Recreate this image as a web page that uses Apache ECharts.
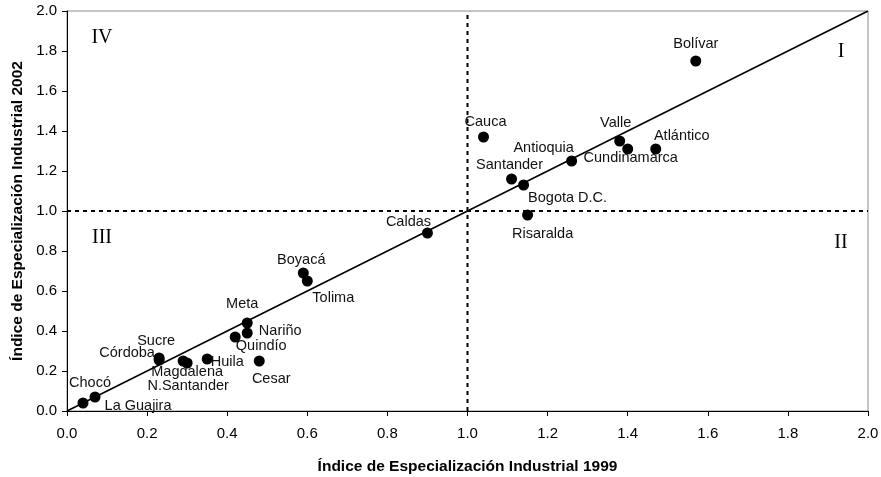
<!DOCTYPE html>
<html>
<head>
<meta charset="utf-8">
<script src="https://cdn.jsdelivr.net/npm/echarts@6/dist/echarts.min.js"></script>
<style>html,body{margin:0;padding:0;background:#fff}#c{width:881px;height:477px}</style>
</head>
<body>
<div id="c"></div>
<script>
var names = ["Bolívar","Atlántico","Valle","Cundinamarca","Antioquia","Santander","Bogota D.C.","Cauca","Risaralda","Caldas","Boyacá","Tolima","Meta","Nariño","Quindío","Huila","Cesar","Magdalena","N.Santander","Sucre","Córdoba","Chocó","La Guajira"];
var index1999 = [1.57,1.47,1.38,1.40,1.26,1.11,1.14,1.04,1.15,0.90,0.59,0.60,0.45,0.45,0.42,0.35,0.48,0.29,0.30,0.23,0.23,0.04,0.07];
var index2002 = [1.75,1.31,1.35,1.31,1.25,1.16,1.13,1.37,0.98,0.89,0.69,0.65,0.44,0.39,0.37,0.26,0.25,0.25,0.24,0.265,0.255,0.04,0.07];
var axisTicks = [0,0.2,0.4,0.6,0.8,1.0,1.2,1.4,1.6,1.8,2.0];
var quadrantLabels = ["I","II","III","IV"];
var xTitle = "Índice de Especialización Industrial 1999";
var yTitle = "Índice de Especialización Industrial 2002";

// label placement (style, kept apart from data)
var labelOffsets = {
  "Bolívar":[0,-17],"Atlántico":[26,-13],"Valle":[-4,-18],"Cundinamarca":[3,9],
  "Antioquia":[-28,-13],"Santander":[-2,-14],"Bogota D.C.":[44,13],"Cauca":[2,-15],
  "Risaralda":[15,19],"Caldas":[-19,-11],"Boyacá":[-2,-13],"Tolima":[26,17],
  "Meta":[-5,-19],"Nariño":[33,-2],"Quindío":[26,9],"Huila":[20,3],"Cesar":[12,18],
  "Magdalena":[4,11],"N.Santander":[1,23],"Sucre":[-3,-17],"Córdoba":[-32,-7],
  "Chocó":[7,-20],"La Guajira":[43,9]
};

var pts = names.map(function(n,i){
  return {name:n, value:[index1999[i], index2002[i]]};
});

var FONT = "'Liberation Sans', Arial, sans-serif";
var chart = echarts.init(document.getElementById('c'), null, {renderer:'canvas'});
var axMin = axisTicks[0], axMax = axisTicks[axisTicks.length-1], axInt = axisTicks[1]-axisTicks[0];
function axisCommon(){
  return {
    type:'value', min:axMin, max:axMax, interval:axInt,
    axisLine:{show:true, lineStyle:{color:'#000', width:1}},
    axisTick:{show:true, inside:false, length:5, lineStyle:{color:'#000'}},
    splitLine:{show:false},
    axisLabel:{color:'#000', fontFamily:FONT, fontSize:15, formatter:function(v){return v.toFixed(1);}},
    nameLocation:'middle',
    nameTextStyle:{color:'#000', fontFamily:FONT, fontSize:15.5, fontWeight:'bold'}
  };
}
var xA = axisCommon(); xA.name = xTitle; xA.nameGap = 48; xA.axisLabel.margin = 15;
var yA = axisCommon(); yA.name = yTitle; yA.nameGap = 40; yA.axisLabel.margin = 10;

chart.setOption({
  animation:false,
  backgroundColor:'#fff',
  grid:{left:67, right:13, top:11, bottom:66, show:true, borderColor:'#8c8c8c', borderWidth:1,
        containLabel:false, outerBoundsMode:'none'},
  xAxis:xA,
  yAxis:yA,
  series:[
    {type:'line', data:[[axMin,axMin],[axMax,axMax]], symbol:'none', lineStyle:{color:'#000', width:1.6}, z:3, silent:true},
    {type:'line', data:[[1,axMin],[1,axMax]], symbol:'none', lineStyle:{color:'#000', width:2, type:[4,4]}, z:2, silent:true},
    {type:'line', data:[[axMin,1],[axMax,1]], symbol:'none', lineStyle:{color:'#000', width:2, type:[4,4]}, z:2, silent:true},
    {type:'scatter', data:pts, symbol:'circle', symbolSize:11, itemStyle:{color:'#000', opacity:1}, z:5,
      label:{show:true, position:'inside', formatter:'{b}', color:'#111', fontFamily:FONT, fontSize:14.5},
      labelLayout:function(p){
        var o = labelOffsets[names[p.dataIndex]] || [0,0];
        return {dx:o[0], dy:o[1], hideOverlap:false};
      }}
  ],
  graphic:[
    {type:'text', x:841, y:52, style:{text:quadrantLabels[0], font:"20px 'Liberation Serif', serif", fill:'#000', align:'center', verticalAlign:'middle'}},
    {type:'text', x:841, y:243, style:{text:quadrantLabels[1], font:"20px 'Liberation Serif', serif", fill:'#000', align:'center', verticalAlign:'middle'}},
    {type:'text', x:102, y:238, style:{text:quadrantLabels[2], font:"20px 'Liberation Serif', serif", fill:'#000', align:'center', verticalAlign:'middle'}},
    {type:'text', x:102, y:38, style:{text:quadrantLabels[3], font:"20px 'Liberation Serif', serif", fill:'#000', align:'center', verticalAlign:'middle'}}
  ]
});
</script>
</body>
</html>
